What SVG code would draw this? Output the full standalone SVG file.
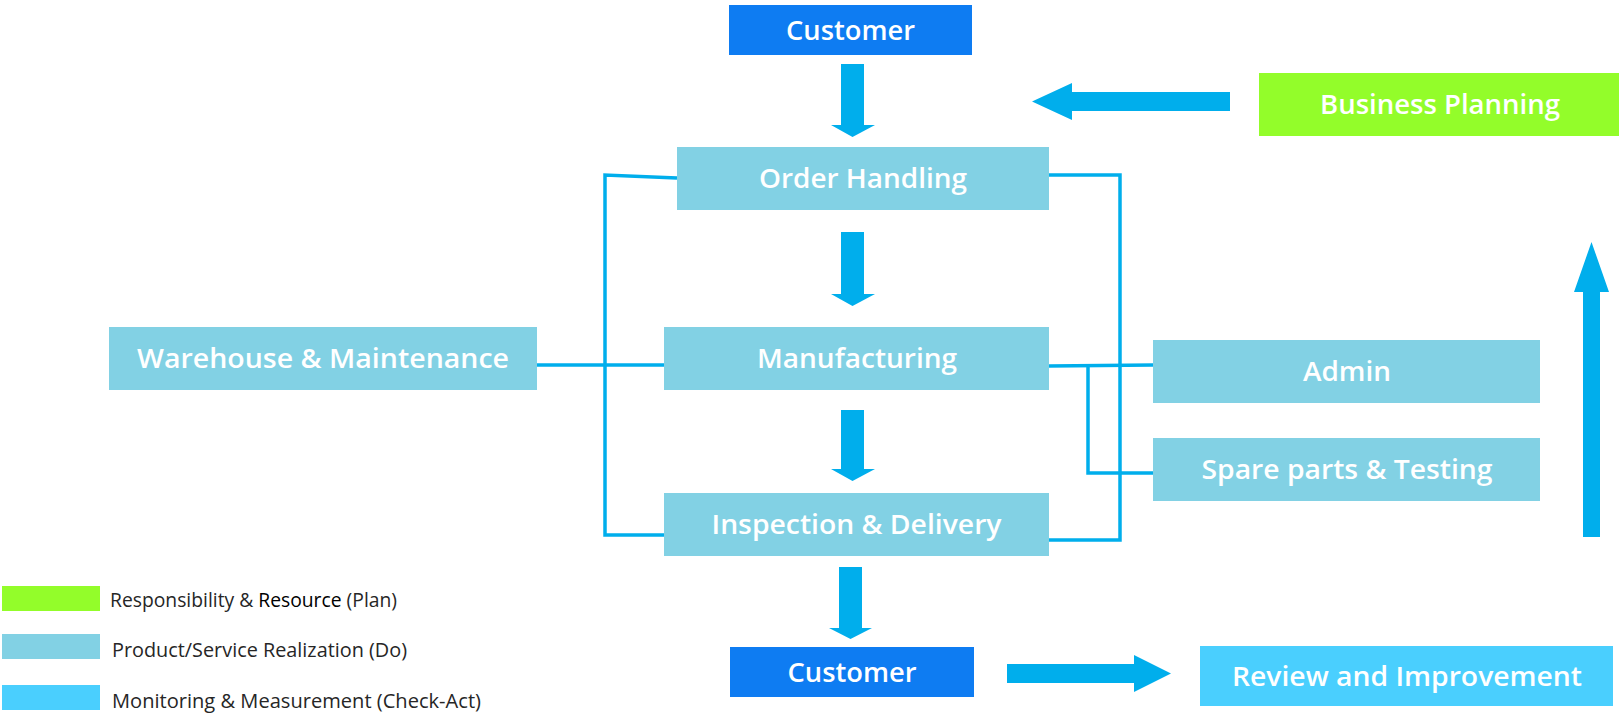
<svg xmlns="http://www.w3.org/2000/svg" width="1619" height="716" viewBox="0 0 1619 716">
<style>
.lbl{font-family:"Open Sans","Noto Sans","Liberation Sans",sans-serif;font-weight:600;font-size:27px;fill:#ffffff;text-anchor:middle}
.leg{font-family:"Open Sans","Noto Sans","Liberation Sans",sans-serif;font-size:20px;fill:#262626}
.cust{fill:#0e7cf2}
.proc{fill:#82d1e4}
.plan{fill:#93fd2a}
.chk{fill:#4acffe}
.arr{fill:#00aeec}
.con{fill:none;stroke:#00aeec;stroke-width:3.5}
</style>
<rect width="1619" height="716" fill="#ffffff"/>
<g id="connectors">
<path class="con" d="M677 178 L605 175 L605 535 L664 535"/>
<path class="con" d="M1049 175 L1120 175 L1120 540 L1049 540"/>
<path class="con" d="M537 365 L664 365"/>
<path class="con" d="M1049 366 L1153 365"/>
<path class="con" d="M1088 365 L1088 473 L1153 473"/>
<polygon class="arr" points="841,64 864,64 864,125 875,125 852.5,137 831,125 841,125"/>
<polygon class="arr" points="841,232 864,232 864,294 875,294 852.5,306 831,294 841,294"/>
<polygon class="arr" points="841,410 864,410 864,469 875,469 852.5,481 831,469 841,469"/>
<polygon class="arr" points="839,567 862,567 862,628 872,628 850.5,639 829,628 839,628"/>
<polygon class="arr" points="1230,92 1072,92 1072,83 1032,101.5 1072,120 1072,111 1230,111"/>
<polygon class="arr" points="1007,664 1134,664 1134,655 1171,673.5 1134,692 1134,683 1007,683"/>
<polygon class="arr" points="1583,537 1583,292 1574,292 1591.5,242 1609,292 1600,292 1600,537"/>
</g>
<g id="customer-top">
<rect class="cust" x="729" y="5" width="243" height="50"/>
<text class="lbl" x="850.5" y="40" textLength="129" lengthAdjust="spacingAndGlyphs">Customer</text>
</g>
<g id="business-planning">
<rect class="plan" x="1259" y="73" width="360" height="63"/>
<text class="lbl" x="1440" y="114" textLength="240" lengthAdjust="spacingAndGlyphs">Business Planning</text>
</g>
<g id="order-handling">
<rect class="proc" x="677" y="147" width="372" height="63"/>
<text class="lbl" x="863" y="188" textLength="208" lengthAdjust="spacingAndGlyphs">Order Handling</text>
</g>
<g id="warehouse">
<rect class="proc" x="109" y="327" width="428" height="63"/>
<text class="lbl" x="323" y="368" textLength="372" lengthAdjust="spacingAndGlyphs">Warehouse &amp; Maintenance</text>
</g>
<g id="manufacturing">
<rect class="proc" x="664" y="327" width="385" height="63"/>
<text class="lbl" x="857" y="368" textLength="200" lengthAdjust="spacingAndGlyphs">Manufacturing</text>
</g>
<g id="admin">
<rect class="proc" x="1153" y="340" width="387" height="63"/>
<text class="lbl" x="1347" y="381" textLength="88" lengthAdjust="spacingAndGlyphs">Admin</text>
</g>
<g id="spare-parts">
<rect class="proc" x="1153" y="438" width="387" height="63"/>
<text class="lbl" x="1347" y="479" textLength="291" lengthAdjust="spacingAndGlyphs">Spare parts &amp; Testing</text>
</g>
<g id="inspection">
<rect class="proc" x="664" y="493" width="385" height="63"/>
<text class="lbl" x="856.5" y="534" textLength="290" lengthAdjust="spacingAndGlyphs">Inspection &amp; Delivery</text>
</g>
<g id="customer-bottom">
<rect class="cust" x="730" y="647" width="244" height="50"/>
<text class="lbl" x="852" y="682" textLength="129" lengthAdjust="spacingAndGlyphs">Customer</text>
</g>
<g id="review">
<rect class="chk" x="1200" y="646" width="413" height="60"/>
<text class="lbl" x="1407" y="686" textLength="350" lengthAdjust="spacingAndGlyphs">Review and Improvement</text>
</g>
<g id="legend">
<rect class="plan" x="2" y="586" width="98" height="25"/>
<rect class="proc" x="2" y="634" width="98" height="25"/>
<rect class="chk" x="2" y="685" width="98" height="25"/>
<text class="leg" x="110" y="607" textLength="287" lengthAdjust="spacingAndGlyphs">Responsibility &amp; <tspan fill="#000000">Resource</tspan> (Plan)</text>
<text class="leg" x="112" y="657" textLength="295" lengthAdjust="spacingAndGlyphs">Product/Service Realization (Do)</text>
<text class="leg" x="112" y="708" textLength="369" lengthAdjust="spacingAndGlyphs">Monitoring &amp; Measurement (Check-Act)</text>
</g>
</svg>
